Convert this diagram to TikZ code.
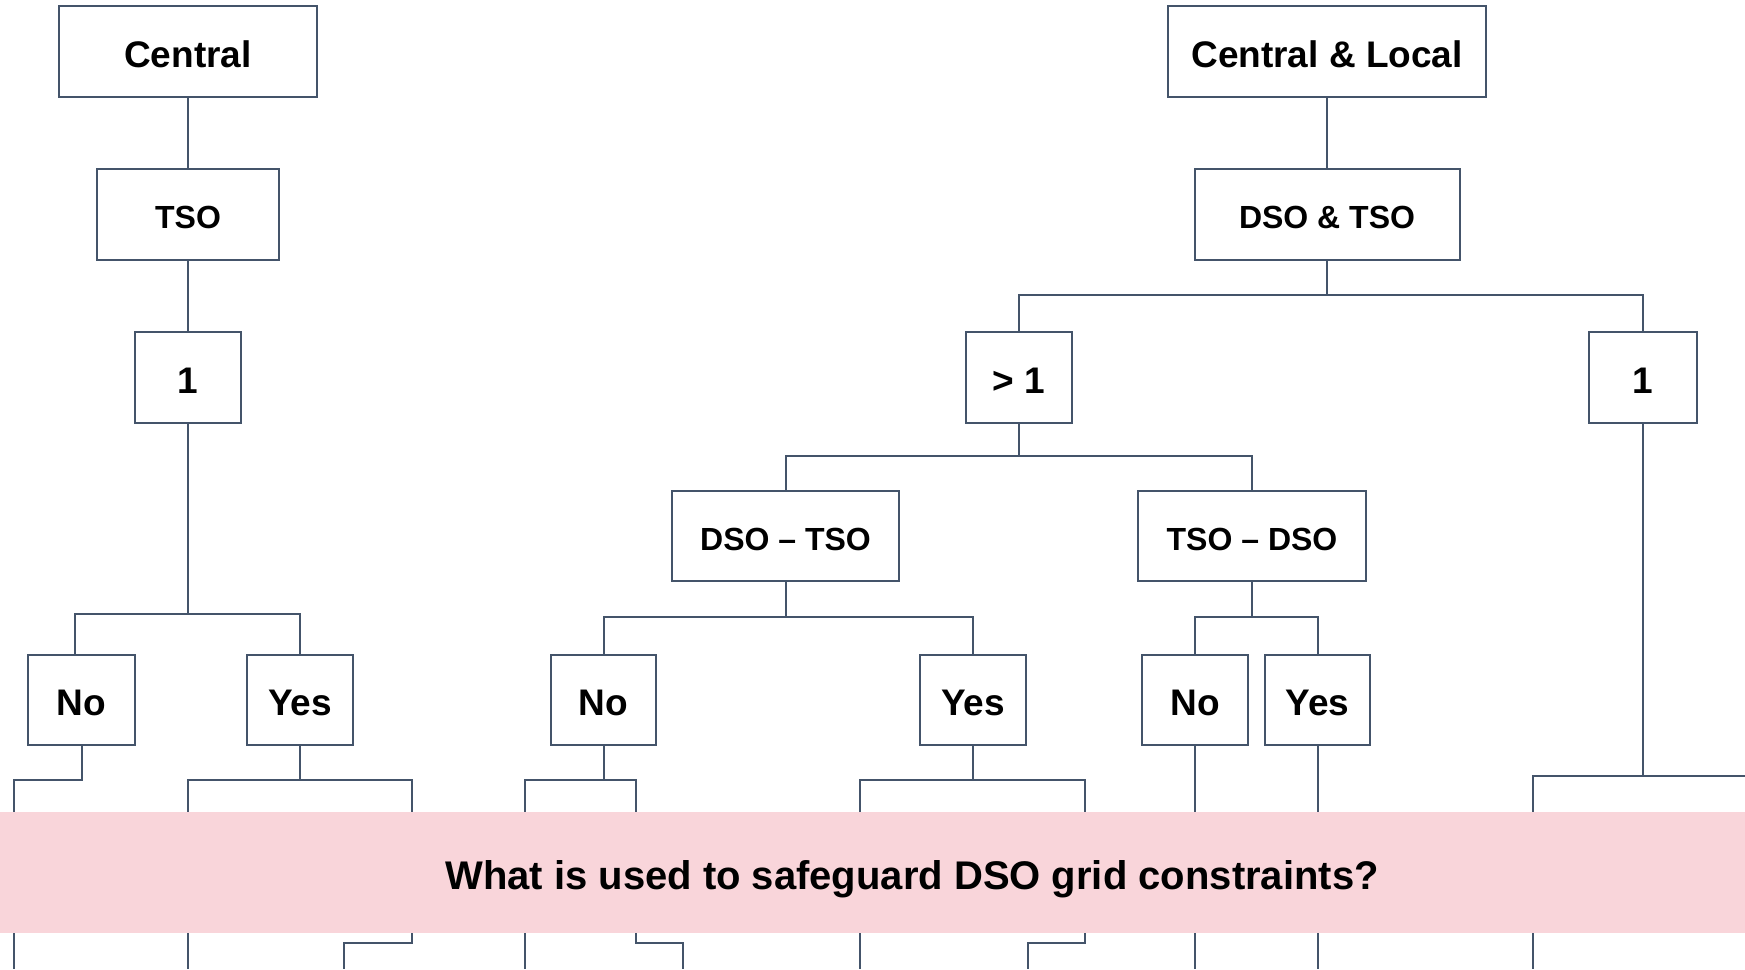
\documentclass[tikz,border=0pt]{standalone}
\usepackage{fontspec}
\setmainfont{Liberation Sans}
\definecolor{slate}{HTML}{44546A}
\definecolor{bandpink}{HTML}{F9D5DA}

\begin{document}
\begin{tikzpicture}[x=1pt,y=-1pt,
  box/.style={draw=slate, line width=2pt, fill=white, minimum height=91pt,
    inner sep=0pt, text=black, text height=31.5pt, text depth=0pt,
    font=\bfseries\fontsize{37}{44}\selectfont},
  smallbox/.style={box, text height=28pt, font=\bfseries\fontsize{32}{38}\selectfont},
  conn/.style={draw=slate, line width=2pt},
  question/.style={text=black, inner sep=0pt, font=\bfseries\fontsize{40}{48}\selectfont}]

\useasboundingbox (0,0) rectangle (1745,969);

% levels of the horizontal buses and the open ends
\coordinate (busA) at (0,295);
\coordinate (busB) at (0,456);
\coordinate (busL) at (0,614);
\coordinate (busM) at (0,617);
\coordinate (lowA) at (0,780);
\coordinate (lowB) at (0,776);
\coordinate (bottom) at (0,969);

% left branch
\node[box, minimum width=258pt] (central) at (188,51.5) {Central};
\node[smallbox, minimum width=182pt] (tsoL) at (188,214.5) {TSO};
\node[box, minimum width=106pt] (oneL) at (188,377.5) {1};
\node[box, minimum width=107pt, minimum height=90pt] (noL) at (81.5,700) {No};
\node[box, minimum width=106pt, minimum height=90pt] (yesL) at (300,700) {Yes};

% right branch
\node[box, minimum width=318pt] (cl) at (1327,51.5) {Central \& Local};
\node[smallbox, minimum width=265pt] (dt) at (1327,214.5) {DSO \& TSO};
\node[box, minimum width=106pt] (gt1) at (1019,377.5) {> 1};
\node[box, minimum width=108pt] (oneR) at (1643,377.5) {1};
\node[smallbox, minimum width=227pt, minimum height=90pt] (dmt) at (785.5,536) {DSO – TSO};
\node[smallbox, minimum width=228pt, minimum height=90pt] (tmd) at (1252,536) {TSO – DSO};
\node[box, minimum width=105pt, minimum height=90pt] (noM) at (603.5,700) {No};
\node[box, minimum width=106pt, minimum height=90pt] (yesM) at (973,700) {Yes};
\node[box, minimum width=106pt, minimum height=90pt] (noR) at (1195,700) {No};
\node[box, minimum width=105pt, minimum height=90pt] (yesR) at (1317.5,700) {Yes};

% free ends of the lower branches
\coordinate (noLend) at (14,969);
\coordinate (yesLa) at (188,969);
\coordinate (yesLjog) at (412,943);
\coordinate (yesLb) at (344,969);
\coordinate (noMa) at (525,969);
\coordinate (noMjog) at (636,943);
\coordinate (noMb) at (683,969);
\coordinate (yesMa) at (860,969);
\coordinate (yesMjog) at (1085,943);
\coordinate (yesMb) at (1028,969);
\coordinate (oneRa) at (1533,969);
\coordinate (oneRb) at (1745,776);

% connectors, upper part
\draw[conn] (central) -- (tsoL);
\draw[conn] (tsoL) -- (oneL);
\draw[conn] (oneL.south) -- (oneL.south |- busL) -| ([xshift=-6.5pt]noL.north);
\draw[conn] (oneL.south |- busL) -| (yesL.north);

\draw[conn] (cl) -- (dt);
\draw[conn] (dt.south) -- (dt.south |- busA) -| (gt1.north);
\draw[conn] (dt.south |- busA) -| (oneR.north);
\draw[conn] (gt1.south) -- (gt1.south |- busB) -| (dmt.north);
\draw[conn] (gt1.south |- busB) -| (tmd.north);
\draw[conn] (dmt.south) -- (dmt.south |- busM) -| (noM.north);
\draw[conn] (dmt.south |- busM) -| (yesM.north);
\draw[conn] (tmd.south) -- (tmd.south |- busM) -| (noR.north);
\draw[conn] (tmd.south |- busM) -| (yesR.north);

% connectors, lower part
\draw[conn] (noL.south) -- (noL.south |- lowA) -| (noLend);
\draw[conn] (yesL.south) -- (yesL.south |- lowA) -| (yesLa);
\draw[conn] (yesL.south |- lowA) -| (yesLjog) -| (yesLb);
\draw[conn] (noM.south) -- (noM.south |- lowA) -| (noMa);
\draw[conn] (noM.south |- lowA) -| (noMjog) -| (noMb);
\draw[conn] (yesM.south) -- (yesM.south |- lowA) -| (yesMa);
\draw[conn] (yesM.south |- lowA) -| (yesMjog) -| (yesMb);
\draw[conn] (noR.south) -- (noR.south |- bottom);
\draw[conn] (yesR.south) -- (yesR.south |- bottom);
\draw[conn] (oneR.south) -- (oneR.south |- lowB) -| (oneRa);
\draw[conn] (oneR.south |- lowB) -- (oneRb);

% question band across the lower part
\fill[bandpink] (0,812) rectangle (1745,933);
\node[question] (q) at (912,879) {What is used to safeguard DSO grid constraints?};
\end{tikzpicture}
\end{document}
